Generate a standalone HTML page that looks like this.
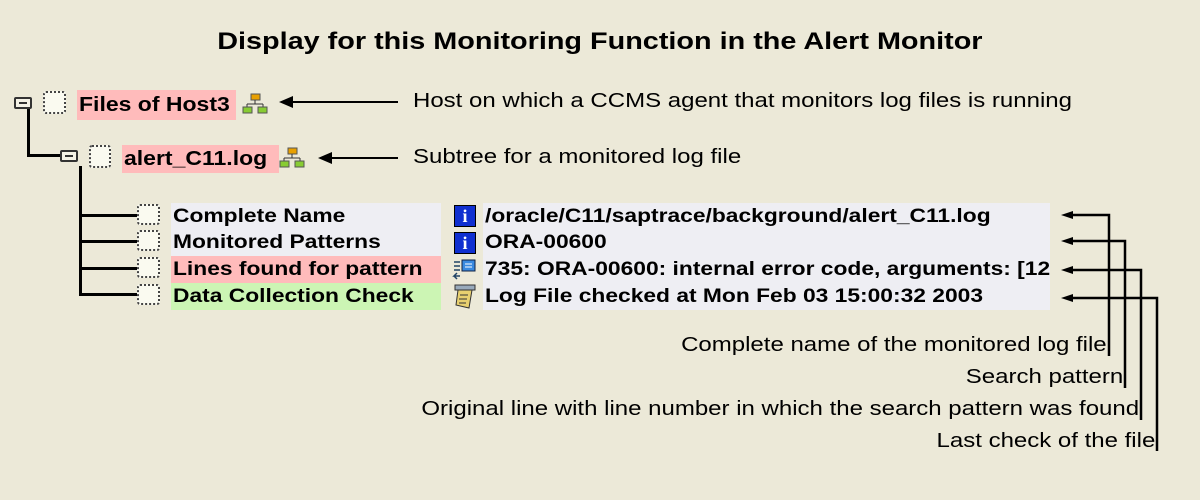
<!DOCTYPE html>
<html><head><meta charset="utf-8"><style>
body{margin:0;width:1200px;height:500px;background:#ECE9D8;position:relative;overflow:hidden;font-family:"Liberation Sans",Arial,sans-serif}
.a{position:absolute;white-space:nowrap}
.b{font-weight:bold;color:#000}
.s{display:inline-block;transform:scaleX(1.2);transform-origin:0 0}
.sr{transform-origin:100% 0}
.cb{position:absolute;border:2px dotted #444;background:#FAFAF0;border-radius:3px;box-sizing:border-box}
.ln{position:absolute;background:#000}
.fold{position:absolute;width:18px;height:12px;border:2px solid #333;border-radius:2px;box-sizing:border-box;background:#f4f2e6}
.fold:after{content:"";position:absolute;left:3px;top:3px;width:8px;height:2px;background:#333}
.r{font-size:19px;font-weight:bold;height:27px;line-height:27px;padding-left:2px;box-sizing:border-box}
.t{font-size:20px;color:#000}
</style></head><body>
<div class="a b" style="left:0;width:1200px;text-align:center;top:28px;font-size:24px"><span class="s" style="transform-origin:50% 0">Display for this Monitoring Function in the Alert Monitor</span></div>

<div class="fold" style="left:14px;top:97px"></div>
<div class="cb" style="left:43px;top:91px;width:23px;height:23px"></div>
<div class="ln" style="left:27px;top:109px;width:3px;height:48px"></div>
<div class="ln" style="left:27px;top:154px;width:34px;height:3px"></div>
<div class="a b" style="left:77px;top:90px;width:157px;height:30px;background:#FFBBBB;font-size:20px;line-height:30px;padding-left:2px"><span class="s" style="transform:scaleX(1.15)">Files of Host3</span></div>
<svg class="a" style="left:242px;top:92px" width="28" height="24"><rect x="9" y="2" width="9" height="6" fill="#e8a000" stroke="#555"/><path d="M13 8v4M5 12h16M5 12v3M21 12v3" stroke="#333" fill="none"/><rect x="1" y="15" width="9" height="6" fill="#8c3" stroke="#555"/><rect x="16" y="15" width="9" height="6" fill="#8c3" stroke="#555"/></svg>
<div class="ln" style="left:290px;top:101px;width:108px;height:2px"></div>
<svg class="a" style="left:279px;top:95px" width="14" height="14"><path d="M0 7L14 1V13Z"/></svg>
<div class="a t" style="left:413px;top:90px"><span class="s">Host on which a CCMS agent that monitors log files is running</span></div>

<div class="fold" style="left:60px;top:150px"></div>
<div class="cb" style="left:89px;top:145px;width:22px;height:23px"></div>
<div class="a b" style="left:122px;top:145px;width:155px;height:28px;background:#FFBBBB;font-size:20px;line-height:28px;padding-left:2px"><span class="s" style="transform:scaleX(1.15)">alert_C11.log</span></div>
<svg class="a" style="left:279px;top:146px" width="28" height="24"><rect x="9" y="2" width="9" height="6" fill="#e8a000" stroke="#555"/><path d="M13 8v4M5 12h16M5 12v3M21 12v3" stroke="#333" fill="none"/><rect x="1" y="15" width="9" height="6" fill="#8c3" stroke="#555"/><rect x="16" y="15" width="9" height="6" fill="#8c3" stroke="#555"/></svg>
<div class="ln" style="left:330px;top:157px;width:68px;height:2px"></div>
<svg class="a" style="left:318px;top:151px" width="14" height="14"><path d="M0 7L14 1V13Z"/></svg>
<div class="a t" style="left:413px;top:146px"><span class="s">Subtree for a monitored log file</span></div>

<div class="ln" style="left:79px;top:166px;width:3px;height:130px"></div>
<div class="ln" style="left:79px;top:214px;width:60px;height:3px"></div>
<div class="ln" style="left:79px;top:240px;width:60px;height:3px"></div>
<div class="ln" style="left:79px;top:267px;width:60px;height:3px"></div>
<div class="ln" style="left:79px;top:293px;width:60px;height:3px"></div>
<div class="cb" style="left:137px;top:204px;width:23px;height:21px"></div>
<div class="cb" style="left:137px;top:230px;width:23px;height:21px"></div>
<div class="cb" style="left:137px;top:257px;width:23px;height:21px"></div>
<div class="cb" style="left:137px;top:284px;width:23px;height:21px"></div>

<div class="a r" style="left:171px;top:203px;width:270px;background:#EEEEF3"><span class="s">Complete Name</span></div>
<div class="a r" style="left:171px;top:229px;width:270px;background:#EEEEF3"><span class="s">Monitored Patterns</span></div>
<div class="a r" style="left:171px;top:256px;width:270px;background:#FFBBBB"><span class="s">Lines found for pattern</span></div>
<div class="a r" style="left:171px;top:283px;width:270px;background:#CCF5B4"><span class="s">Data Collection Check</span></div>

<div class="a" style="left:483px;top:203px;width:567px;height:107px;background:#EEEEF3"></div>
<div class="a r" style="left:483px;top:203px"><span class="s">/oracle/C11/saptrace/background/alert_C11.log</span></div>
<div class="a r" style="left:483px;top:229px"><span class="s">ORA-00600</span></div>
<div class="a r" style="left:483px;top:256px;width:567px;overflow:hidden"><span class="s">735: ORA-00600: internal error code, arguments: [12</span></div>
<div class="a r" style="left:483px;top:283px"><span class="s">Log File checked at Mon Feb 03 15:00:32 2003</span></div>

<div class="a" style="left:454px;top:205px;width:22px;height:22px;background:#1030d0;border:1px solid #000;box-sizing:border-box;color:#fff;font:bold 18px 'Liberation Serif',serif;text-align:center;line-height:21px">i</div>
<div class="a" style="left:454px;top:232px;width:22px;height:22px;background:#1030d0;border:1px solid #000;box-sizing:border-box;color:#fff;font:bold 18px 'Liberation Serif',serif;text-align:center;line-height:21px">i</div>
<svg class="a" style="left:452px;top:258px" width="26" height="24"><rect x="10" y="2" width="13" height="11" fill="#3a8ae0" stroke="#124"/><path d="M13 6h7M13 9h7" stroke="#fff"/><path d="M2 4h6M2 8h6M2 12h6M8 18h-6l3-3M5 21l-3-3" stroke="#246" fill="none" stroke-width="1.5"/></svg>
<svg class="a" style="left:453px;top:284px" width="24" height="26"><rect x="2" y="1" width="20" height="5" fill="#9ab" stroke="#333"/><path d="M5 6l14 0 -3 18 -13 -3z" fill="#e8d070" stroke="#333"/><path d="M7 11h8M6 15h8M6 19h7" stroke="#333"/></svg>

<svg class="a" style="left:0;top:0" width="1200" height="500">
<g stroke="#000" stroke-width="2.5" fill="none">
<path d="M1070 215H1109V356"/>
<path d="M1070 241H1125V388"/>
<path d="M1070 270H1141V420"/>
<path d="M1070 298H1157V451"/>
</g>
<g fill="#000">
<path d="M1061 215l12 -4v8z"/><path d="M1061 241l12 -4v8z"/><path d="M1061 270l12 -4v8z"/><path d="M1061 298l12 -4v8z"/>
</g>
</svg>
<div class="a t" style="right:93px;top:334px"><span class="s sr">Complete name of the monitored log file</span></div>
<div class="a t" style="right:77px;top:366px"><span class="s sr">Search pattern</span></div>
<div class="a t" style="right:61px;top:398px"><span class="s sr">Original line with line number in which the search pattern was found</span></div>
<div class="a t" style="right:45px;top:430px"><span class="s sr">Last check of the file</span></div>
</body></html>
